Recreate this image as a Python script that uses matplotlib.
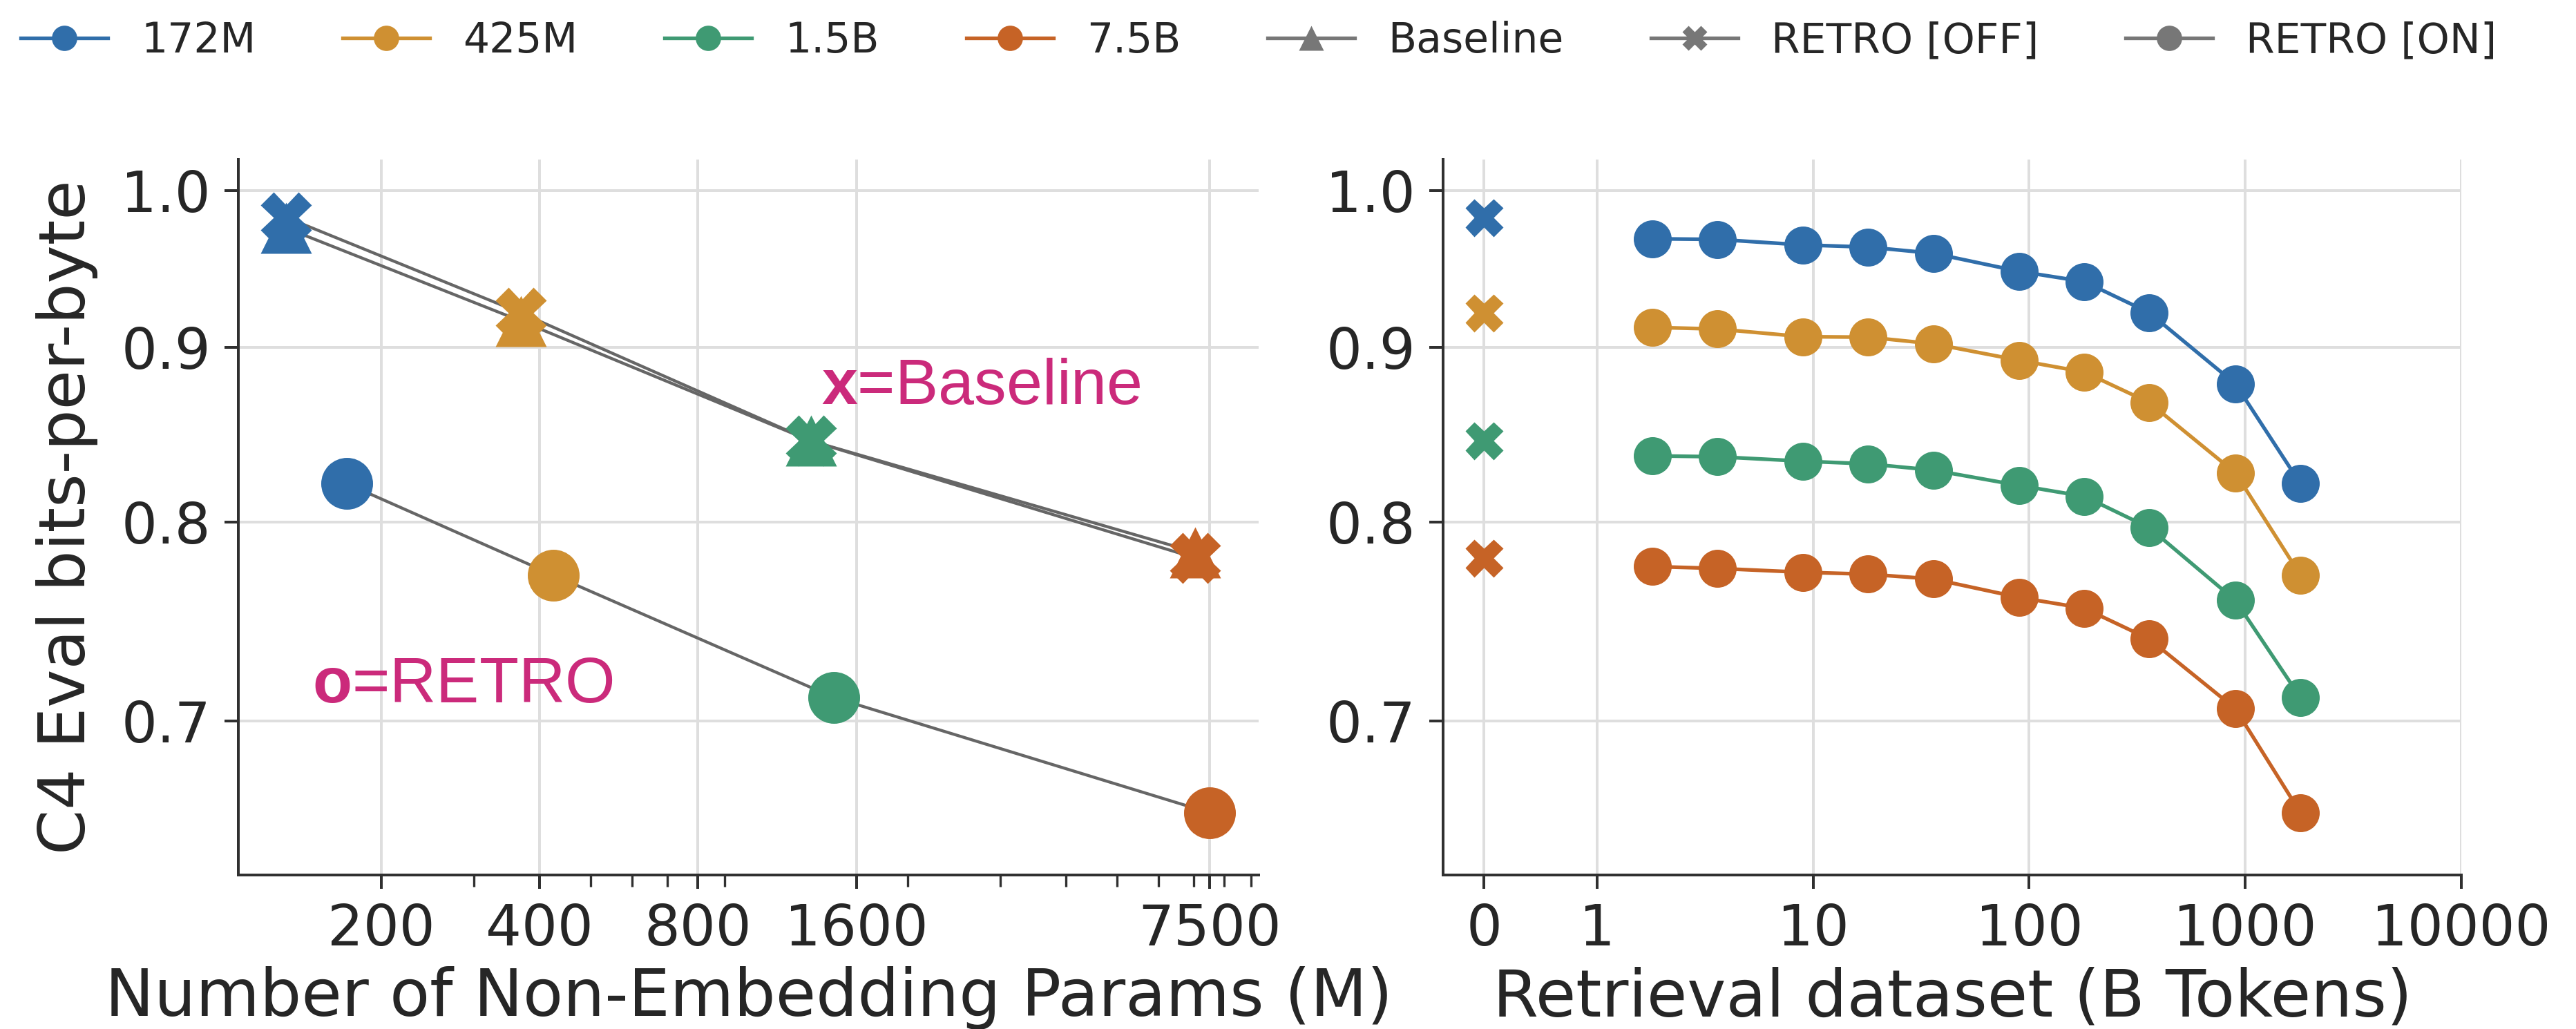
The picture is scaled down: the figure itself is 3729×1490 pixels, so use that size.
import numpy as np
import matplotlib
matplotlib.use("Agg")
import matplotlib.pyplot as plt
from matplotlib.ticker import NullLocator, NullFormatter, FixedLocator
from matplotlib.lines import Line2D

plt.rcParams['font.family'] = ['DejaVu Sans']
plt.rcParams['mathtext.fontset'] = 'custom'
plt.rcParams['mathtext.rm'] = 'Liberation Sans'
plt.rcParams['mathtext.bf'] = 'Liberation Sans:bold'

# ---- data ----
size_names = ['172M', '425M', '1.5B', '7.5B']
colors = ['#306EAA', '#CF9032', '#3F9A73', '#C66326']

baseline_params = [132, 368, 1310, 7050]      # non-embedding params (M)
retro_params = [172, 425, 1450, 7500]
baseline_bpb = [0.975, 0.916, 0.845, 0.784]
retro_off_bpb = [0.982, 0.921, 0.845, 0.781]
retro_on_bpb = [0.821, 0.772, 0.711, 0.658]

retrieval_tokens = [1.8, 3.6, 9, 18, 36, 90, 180, 360, 900, 1800]   # B tokens
retro_curves = [
    [0.968, 0.9676, 0.964, 0.9626, 0.9586, 0.947, 0.9405, 0.921, 0.878, 0.821],
    [0.912, 0.911, 0.9063, 0.906, 0.902, 0.892, 0.885, 0.867, 0.827, 0.772],
    [0.8365, 0.836, 0.8335, 0.832, 0.8285, 0.820, 0.814, 0.797, 0.759, 0.711],
    [0.7765, 0.7755, 0.7735, 0.7725, 0.770, 0.7605, 0.755, 0.7395, 0.7057, 0.658],
]

left_xticks = [200, 400, 800, 1600, 7500]
right_xticks = [0, 1, 10, 100, 1000, 10000]
yticks = [0.7, 0.8, 0.9, 1.0]
ZERO_POS = 0.3   # where "0" sits on the log axis

gray = '#666666'
pink = '#CB2A7B'
grid_c = '#DEDEDE'
spine_c = '#303030'

W, H = 3729, 1490
fig = plt.figure(figsize=(W / 240, H / 240), dpi=240)
ax1 = fig.add_axes([345 / W, 1 - 1267 / H, (1822 - 345) / W, (1267 - 231) / H])
ax2 = fig.add_axes([2089 / W, 1 - 1267 / H, (3563 - 2089) / W, (1267 - 231) / H])

for ax in (ax1, ax2):
    ax.set_xscale('log')
    ax.set_yscale('log')
    ax.set_ylim(0.631, 1.021)
    ax.yaxis.set_major_locator(FixedLocator(yticks))
    ax.yaxis.set_minor_locator(NullLocator())
    ax.set_yticklabels(['%.1f' % v for v in yticks])
    ax.grid(True, which='major', color=grid_c, lw=1.2, zorder=0)
    ax.set_axisbelow(True)
    for s in ('top', 'right'):
        ax.spines[s].set_visible(False)
    for s in ('left', 'bottom'):
        ax.spines[s].set_color(spine_c)
        ax.spines[s].set_linewidth(1.2)
    ax.tick_params(which='major', length=6, width=1.2, color=spine_c,
                   labelsize=24.5, labelcolor='#262626', pad=6)
    ax.tick_params(which='minor', length=5, width=1.0, color=spine_c)

# ---- left panel ----
ax1.set_xlim(107, 9300)
ax1.xaxis.set_major_locator(FixedLocator(left_xticks))
ax1.set_xticklabels([str(v) for v in left_xticks])
ax1.xaxis.set_minor_formatter(NullFormatter())

ax1.plot(baseline_params, baseline_bpb, color=gray, lw=1.3, zorder=2)
ax1.plot(baseline_params, retro_off_bpb, color=gray, lw=1.3, zorder=2)
ax1.plot(retro_params, retro_on_bpb, color=gray, lw=1.3, zorder=2)
for i in range(4):
    ax1.plot(baseline_params[i], baseline_bpb[i], marker='^', ms=22, color=colors[i],
             mec='none', ls='none', zorder=3)
for i in range(4):
    ax1.plot(baseline_params[i], retro_off_bpb[i], marker='X', ms=22, color=colors[i],
             mec='none', ls='none', zorder=4)
    ax1.plot(retro_params[i], retro_on_bpb[i], marker='o', ms=22.5, color=colors[i],
             mec='none', ls='none', zorder=4)

ax1.text(1371, 0.866, r'$\mathbf{x}$=Baseline', color=pink, fontsize=28,
         family='Liberation Sans', va='baseline', ha='left', zorder=5)
ax1.text(148, 0.7086, r'$\mathbf{o}$=RETRO', color=pink, fontsize=28,
         family='Liberation Sans', va='baseline', ha='left', zorder=5)

ax1.set_xlabel('Number of Non-Embedding Params (M)', fontsize=28.5, color='#262626', labelpad=4)
ax1.set_ylabel('C4 Eval bits-per-byte', fontsize=28, color='#262626', labelpad=10)

# ---- right panel ----
ax2.set_xlim(0.194, 10000)
ax2.xaxis.set_major_locator(FixedLocator([ZERO_POS if v == 0 else v for v in right_xticks]))
ax2.set_xticklabels([str(v) for v in right_xticks])
ax2.xaxis.set_minor_locator(NullLocator())

for i in range(4):
    ax2.plot(retrieval_tokens, retro_curves[i], color=colors[i], lw=1.6, marker='o',
             ms=16.5, mec='none', zorder=3)
    ax2.plot(ZERO_POS, retro_off_bpb[i], marker='X', ms=16.5, color=colors[i],
             mec='none', ls='none', zorder=3)

ax2.set_xlabel('Retrieval dataset (B Tokens)', fontsize=28.5, color='#262626', labelpad=4)

# ---- legend ----
handles = [Line2D([], [], color=c, lw=1.6, marker='o', ms=11, mec='none') for c in colors]
handles += [Line2D([], [], color='#777777', lw=1.6, marker=m, ms=11, mec='none')
            for m in ('^', 'X', 'o')]
labels = size_names + ['Baseline', 'RETRO [OFF]', 'RETRO [ON]']
fig.legend(handles, labels, loc='upper left', bbox_to_anchor=(0.0, 1.0), ncol=7,
           frameon=False, fontsize=18, handlelength=2.1, handletextpad=0.8,
           columnspacing=2.1, borderaxespad=0.2, borderpad=0.3, labelcolor='#262626')

fig.savefig('out.png', dpi=240)
